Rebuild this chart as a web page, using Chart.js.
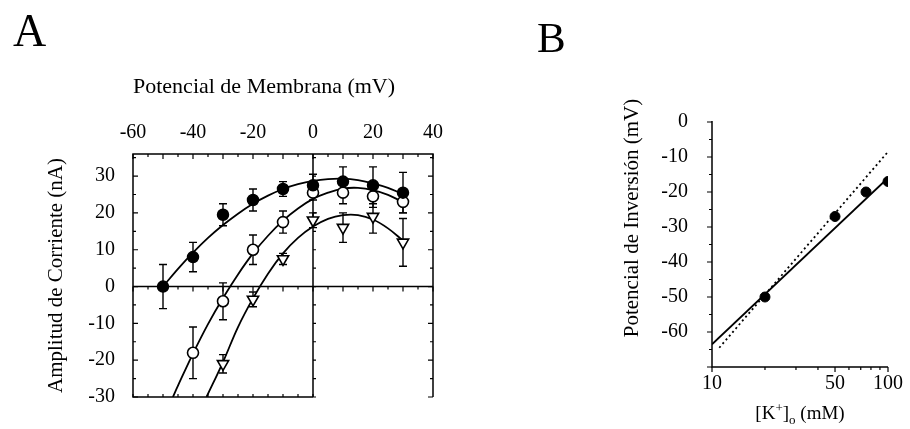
<!DOCTYPE html>
<html>
<head>
<meta charset="utf-8">
<script src="https://cdn.jsdelivr.net/npm/chart.js@4.4.1/dist/chart.umd.min.js"></script>
<style>
  html, body { margin: 0; padding: 0; background: #fff; }
  #wrap { position: relative; width: 910px; height: 429px; overflow: hidden; }
  #panelA { position: absolute; left: 0; top: 0; width: 460px; height: 429px; }
  #panelB { position: absolute; left: 460px; top: 0; width: 450px; height: 429px; }
  .tag { position: absolute; font-family: "Liberation Serif", serif; font-size: 46px; color: #000; line-height: 1; }
</style>
</head>
<body>
<div id="wrap">
  <canvas id="panelA" width="460" height="429"></canvas>
  <canvas id="panelB" width="450" height="429"></canvas>
  <div class="tag" style="left:13px;top:8px">A</div>
  <div class="tag" style="left:537px;top:16px;font-size:43px">B</div>
</div>
<script>
// ---- Panel A: I-V curves ----
const xTicksA = [-60, -40, -20, 0, 20, 40];
const yTicksA = [-30, -20, -10, 0, 10, 20, 30];

// filled circles
const mvFilled = [-50, -40, -30, -20, -10, 0, 10, 20, 30];
const iFilled = [0, 8, 19.5, 23.5, 26.5, 27.5, 28.5, 27.5, 25.5];
const errFilled = [6, 4, 3, 3, 2, 3, 4, 5, 5.5];

// open circles
const mvOpen = [-40, -30, -20, -10, 0, 10, 20, 30];
const iOpen = [-18, -4, 10, 17.5, 25.5, 25.5, 24.5, 23];
const errOpen = [7, 5, 4, 3, 2, 3, 3, 3];

// open triangles
const mvTri = [-30, -20, -10, 0, 10, 20, 30];
const iTri = [-21, -3.5, 7.5, 18, 16, 19, 12];
const errTri = [2.5, 2, 1.5, 2, 4, 4.5, 6.5];

// fitted curves
const fitMv1 = [-50, -45, -40, -35, -30, -25, -20, -15, -10, -5, 0, 5, 10, 15, 20, 25, 30];
const fitI1 = [0, 4.8, 9.2, 13.2, 16.7, 19.8, 22.5, 24.7, 26.5, 27.8, 28.7, 29.2, 29.3, 28.9, 28.0, 26.8, 25.1];
const fitMv2 = [-46.7, -45, -40, -35, -30, -25, -20, -15, -10, -5, 0, 5, 10, 15, 20, 25, 30];
const fitI2 = [-30, -26.9, -18.2, -10.2, -3.1, 3.3, 9.0, 13.8, 17.9, 21.2, 23.8, 25.5, 26.6, 26.8, 26.2, 24.9, 22.9];
const fitMv3 = [-35.5, -30, -25, -20, -15, -10, -5, 0, 5, 10, 15, 20, 25, 30];
const fitI3 = [-30, -20.5, -11, -3.2, 3.5, 9, 13.2, 16.3, 18.4, 19.4, 19.4, 18.2, 15.8, 12.5];

// ---- Panel B: reversal potential vs [K+]o ----
const yTicksB = [-60, -50, -40, -30, -20, -10, 0];
const xTicksB = [10, 20, 30, 40, 50, 60, 70, 80, 90, 100];
const xLabelsB = [10, 50, 100];
const kConc = [20, 50, 75, 100];
const eRev = [-50, -27, -20, -17];
const kFit = [10, 100];
const eFit = [-63.5, -16];
const kNernst = [11, 100];
const eNernst = [-64.5, -8.5];

const FONT = '"Liberation Serif", "Times New Roman", serif';

function pts(xs, ys) {
  return xs.map((x, i) => ({ x: x, y: ys[i] }));
}

const errorBars = {
  id: "errorBars",
  beforeDatasetsDraw(chart) {
    const ctx = chart.ctx;
    const xs = chart.scales.x;
    const ys = chart.scales.y;
    ctx.save();
    ctx.strokeStyle = "#000";
    ctx.lineWidth = 1.4;
    chart.data.datasets.forEach((ds) => {
      if (!ds.errors) return;
      ds.data.forEach((p, i) => {
        const e = ds.errors[i];
        const px = xs.getPixelForValue(p.x);
        const y1 = ys.getPixelForValue(p.y + e);
        const y2 = ys.getPixelForValue(p.y - e);
        ctx.beginPath();
        ctx.moveTo(px, y1); ctx.lineTo(px, y2);
        ctx.moveTo(px - 4, y1); ctx.lineTo(px + 4, y1);
        ctx.moveTo(px - 4, y2); ctx.lineTo(px + 4, y2);
        ctx.stroke();
      });
    });
    ctx.restore();
  },
};

const frameA = {
  id: "frameA",
  beforeDatasetsDraw(chart) {
    const ctx = chart.ctx;
    const a = chart.chartArea;
    const xs = chart.scales.x;
    const ys = chart.scales.y;
    const x0 = xs.getPixelForValue(0);
    const y0 = ys.getPixelForValue(0);
    ctx.save();
    ctx.strokeStyle = "#000";
    ctx.lineWidth = 1.5;
    ctx.beginPath();
    // left, top, right edges; bottom edge only up to the 0 mV line
    ctx.moveTo(x0, a.bottom); ctx.lineTo(a.left, a.bottom);
    ctx.lineTo(a.left, a.top); ctx.lineTo(a.right, a.top); ctx.lineTo(a.right, a.bottom);
    ctx.moveTo(x0, a.top); ctx.lineTo(x0, a.bottom);
    ctx.moveTo(a.left, y0); ctx.lineTo(a.right, y0);
    ctx.stroke();
    ctx.lineWidth = 1.2;
    ctx.beginPath();
    for (let v = -60; v <= 40; v += 5) {
      const px = xs.getPixelForValue(v);
      const len = v % 10 === 0 ? 5 : 3;
      ctx.moveTo(px, a.top); ctx.lineTo(px, a.top + len);
      if (v <= 0) { ctx.moveTo(px, a.bottom); ctx.lineTo(px, a.bottom - 3); }
      ctx.moveTo(px, y0); ctx.lineTo(px, y0 + len);
    }
    for (let v = -30; v <= 35; v += 5) {
      const py = ys.getPixelForValue(v);
      const len = v % 10 === 0 ? 5 : 3;
      ctx.moveTo(a.left, py); ctx.lineTo(a.left + len, py);
      ctx.moveTo(a.right, py); ctx.lineTo(a.right - len, py);
      ctx.moveTo(x0, py); ctx.lineTo(x0 + 3, py);
    }
    ctx.stroke();
    ctx.restore();
  },
};

const frameB = {
  id: "frameB",
  beforeDatasetsDraw(chart) {
    const ctx = chart.ctx;
    const a = chart.chartArea;
    const xs = chart.scales.x;
    const ys = chart.scales.y;
    ctx.save();
    ctx.strokeStyle = "#000";
    ctx.lineWidth = 1.5;
    ctx.beginPath();
    ctx.moveTo(a.left, a.top - 1); ctx.lineTo(a.left, a.bottom);
    ctx.lineTo(a.right, a.bottom);
    ctx.stroke();
    ctx.lineWidth = 1.2;
    ctx.beginPath();
    for (let v = -70; v <= 0; v += 5) {
      const py = ys.getPixelForValue(v);
      const len = v % 10 === 0 ? 5 : 3;
      ctx.moveTo(a.left, py); ctx.lineTo(a.left - len, py);
    }
    xTicksB.forEach((v) => {
      const px = xs.getPixelForValue(v);
      const len = xLabelsB.includes(v) ? 5 : 3;
      ctx.moveTo(px, a.bottom); ctx.lineTo(px, a.bottom + len);
    });
    ctx.stroke();
    ctx.restore();
  },
  afterDraw(chart) {
    const ctx = chart.ctx;
    const a = chart.chartArea;
    ctx.save();
    ctx.fillStyle = "#000";
    // y-axis title, placed a little above the middle of the axis as in the figure
    ctx.font = "21px " + FONT;
    ctx.textAlign = "center";
    ctx.textBaseline = "middle";
    ctx.translate(172, a.top + 96);
    ctx.rotate(-Math.PI / 2);
    ctx.fillText("Potencial de Inversión (mV)", 0, 0);
    ctx.setTransform(1, 0, 0, 1, 0, 0);
    // x-axis title with superscript / subscript
    const parts = [
      ["[K", 19, 0],
      ["+", 13, -7],
      ["]", 19, 0],
      ["o", 13, 5],
      [" (mM)", 19, 0],
    ];
    ctx.textAlign = "left";
    ctx.textBaseline = "alphabetic";
    let total = 0;
    parts.forEach((p) => {
      ctx.font = p[1] + "px " + FONT;
      total += ctx.measureText(p[0]).width;
    });
    let x = (a.left + a.right) / 2 - total / 2;
    const base = 419;
    parts.forEach((p) => {
      ctx.font = p[1] + "px " + FONT;
      ctx.fillText(p[0], x, base + p[2]);
      x += ctx.measureText(p[0]).width;
    });
    ctx.restore();
  },
};

const tickFont = { family: FONT, size: 20 };

new Chart(document.getElementById("panelA"), {
  type: "scatter",
  data: {
    datasets: [
      {
        data: pts(mvFilled, iFilled), errors: errFilled, order: 1,
        pointRadius: 5.5, pointBackgroundColor: "#000", pointBorderColor: "#000", borderWidth: 1.5,
      },
      {
        data: pts(mvOpen, iOpen), errors: errOpen, order: 1,
        pointRadius: 5.5, pointBackgroundColor: "#fff", pointBorderColor: "#000", pointBorderWidth: 1.6,
      },
      {
        data: pts(mvTri, iTri), errors: errTri, order: 1,
        pointStyle: "triangle", pointRotation: 180, pointRadius: 6.5,
        pointBackgroundColor: "#fff", pointBorderColor: "#000", pointBorderWidth: 1.6,
      },
      { data: pts(fitMv1, fitI1), showLine: true, pointRadius: 0, borderColor: "#000", borderWidth: 1.8, tension: 0.4, order: 2 },
      { data: pts(fitMv2, fitI2), showLine: true, pointRadius: 0, borderColor: "#000", borderWidth: 1.8, tension: 0.4, order: 2 },
      { data: pts(fitMv3, fitI3), showLine: true, pointRadius: 0, borderColor: "#000", borderWidth: 1.8, tension: 0.4, order: 2 },
    ],
  },
  options: {
    responsive: false,
    animation: false,
    layout: { padding: { left: 0, top: 0, right: 27, bottom: 32 } },
    plugins: { legend: { display: false }, tooltip: { enabled: false } },
    scales: {
      x: {
        type: "linear", position: "top", min: -60, max: 40,
        grid: { display: false }, border: { display: false },
        afterBuildTicks: (s) => { s.ticks = xTicksA.map((v) => ({ value: v })); },
        afterFit: (s) => { s.height = 154; },
        ticks: { color: "#000", font: tickFont, padding: 1, maxRotation: 0, autoSkip: false },
        title: {
          display: true, text: "Potencial de Membrana (mV)", color: "#000", align: "start",
          font: { family: FONT, size: 22 }, padding: { top: 74, bottom: 0 },
        },
      },
      y: {
        type: "linear", min: -30, max: 36,
        grid: { display: false }, border: { display: false },
        afterBuildTicks: (s) => { s.ticks = yTicksA.map((v) => ({ value: v })); },
        afterFit: (s) => { s.width = 133; },
        ticks: { color: "#000", font: tickFont, padding: 10, autoSkip: false },
        title: {
          display: true, text: "Amplitud de Corriente (nA)", color: "#000",
          font: { family: FONT, size: 21 }, padding: { top: 44, bottom: 0 },
        },
      },
    },
  },
  plugins: [frameA, errorBars],
});

new Chart(document.getElementById("panelB"), {
  type: "scatter",
  data: {
    datasets: [
      {
        data: pts(kConc, eRev), order: 1,
        pointRadius: 5, pointBackgroundColor: "#000", pointBorderColor: "#000",
      },
      { data: pts(kFit, eFit), showLine: true, pointRadius: 0, borderColor: "#000", borderWidth: 1.8, order: 2 },
      { data: pts(kNernst, eNernst), showLine: true, pointRadius: 0, borderColor: "#000", borderWidth: 1.8, borderDash: [2, 3], order: 2 },
    ],
  },
  options: {
    responsive: false,
    animation: false,
    layout: { padding: { left: 0, top: 122, right: 22, bottom: 0 } },
    plugins: { legend: { display: false }, tooltip: { enabled: false } },
    scales: {
      x: {
        type: "logarithmic", min: 10, max: 100,
        grid: { display: false }, border: { display: false },
        afterBuildTicks: (s) => { s.ticks = xLabelsB.map((v) => ({ value: v })); },
        afterFit: (s) => { s.height = 62; },
        ticks: { color: "#000", font: tickFont, padding: -3, maxRotation: 0, autoSkip: false, callback: (v) => String(v) },
      },
      y: {
        type: "linear", min: -70, max: 0,
        grid: { display: false }, border: { display: false },
        afterBuildTicks: (s) => { s.ticks = yTicksB.map((v) => ({ value: v })); },
        afterFit: (s) => { s.width = 252; },
        ticks: { color: "#000", font: tickFont, padding: 16, autoSkip: false },
      },
    },
  },
  plugins: [frameB],
});
</script>
</body>
</html>
